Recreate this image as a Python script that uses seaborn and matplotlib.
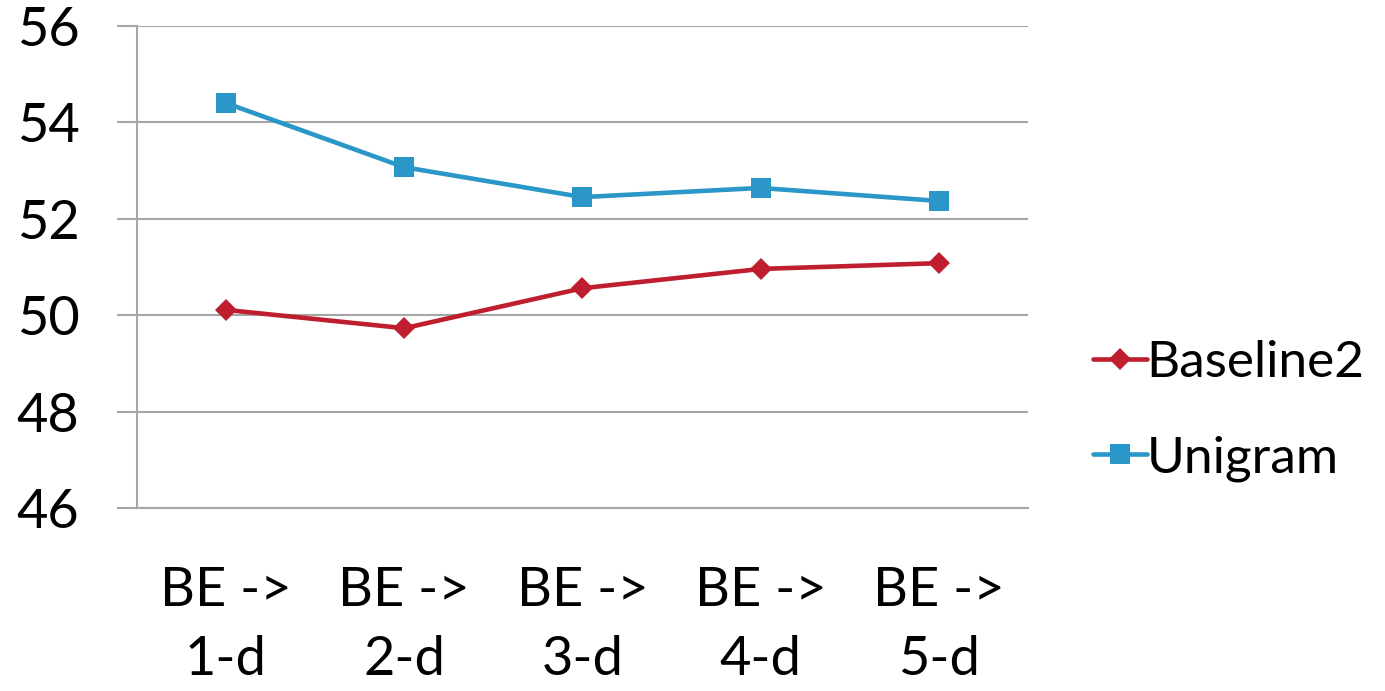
import pandas as pd
import numpy as np
import matplotlib.pyplot as plt
import seaborn as sns

# values
categories = ['BE ->\n1-d', 'BE ->\n2-d', 'BE ->\n3-d', 'BE ->\n4-d', 'BE ->\n5-d']
baseline2 = [50.11, 49.73, 50.56, 50.96, 51.08]
unigram = [54.40, 53.07, 52.45, 52.64, 52.37]
y_ticks = [46, 48, 50, 52, 54, 56]

df = pd.DataFrame({
    'pos': list(range(len(categories))) * 2,
    'value': baseline2 + unigram,
    'series': ['Baseline2'] * len(categories) + ['Unigram'] * len(categories),
})

sns.set_style('white')
plt.rcParams['font.family'] = ['Lato', 'DejaVu Sans']
plt.rcParams['text.color'] = 'black'

grid_col = '#A6A6A6'
palette = {'Baseline2': '#BE1E2D', 'Unigram': '#2B96C8'}
markers = {'Baseline2': 'D', 'Unigram': 's'}

fig = plt.figure(figsize=(13.85, 6.91), dpi=100)
ax = fig.add_axes([0.0989, 0.2648, 0.6433, 0.6976])

for name in ['Baseline2', 'Unigram']:
    sub = df[df['series'] == name]
    sns.lineplot(data=sub, x='pos', y='value', ax=ax, color=palette[name],
                 marker=markers[name], markersize=14 if name == 'Unigram' else 11,
                 markeredgewidth=0, linewidth=3.3, label=name)

ax.set_xlim(-0.5, len(categories) - 0.5)
ax.set_ylim(46, 56)
ax.set_yticks(y_ticks)
ax.set_xticks(range(len(categories)))
ax.set_xticklabels(categories, fontsize=39, linespacing=1.5, color='black')
ax.set_yticklabels([str(t) for t in y_ticks], fontsize=39, color='black')
ax.set_xlabel('')
ax.set_ylabel('')

ax.yaxis.grid(True, color=grid_col, linewidth=1.5)
ax.set_axisbelow(True)
for s in ['top', 'right']:
    ax.spines[s].set_visible(False)
for s in ['left', 'bottom']:
    ax.spines[s].set_color(grid_col)
    ax.spines[s].set_linewidth(1.5)
ax.tick_params(axis='y', length=14.4, width=1.5, color=grid_col, pad=27, left=True)
ax.tick_params(axis='x', length=0, pad=42)

ax.legend(loc='center left', bbox_to_anchor=(0.774, 0.405), bbox_transform=fig.transFigure,
          frameon=False, fontsize=37, handlelength=1.05, handletextpad=0.0,
          labelspacing=0.95, borderaxespad=0, labelcolor='black')

fig.savefig('out.png', dpi=100)
